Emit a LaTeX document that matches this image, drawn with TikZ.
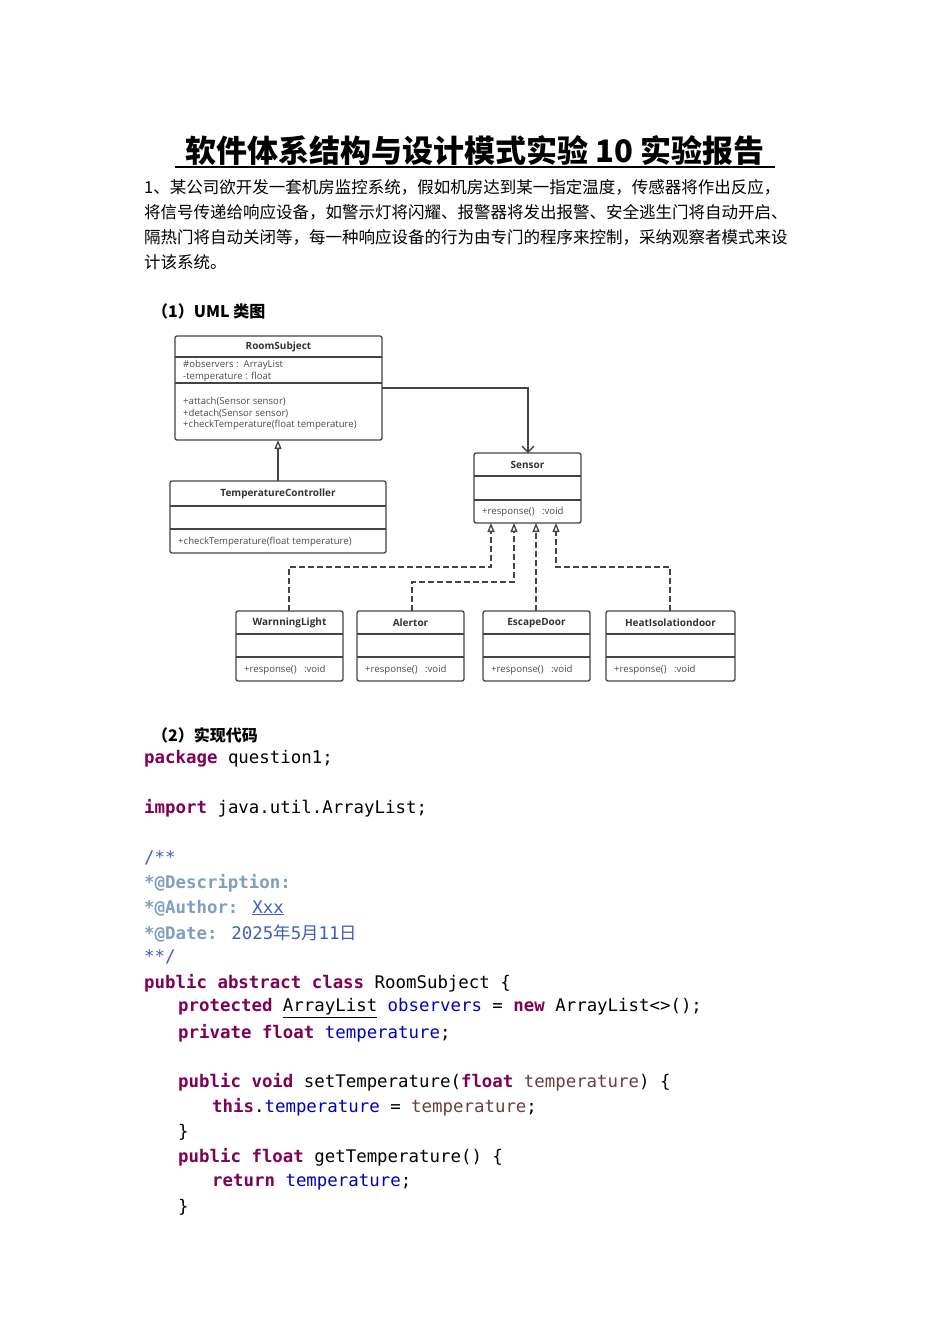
\documentclass[tikz,border=0pt]{standalone}
\usepackage{fontspec}
\setmainfont{Noto Sans CJK SC}
\newfontfamily\umlf{Open Sans}
\newfontfamily\codef{DejaVu Sans Mono}
\newfontfamily\cjkm{Noto Sans CJK SC}
\usetikzlibrary{arrows.meta}
\definecolor{kw}{HTML}{7F0055}
\definecolor{fld}{HTML}{0000C0}
\definecolor{jdoc}{HTML}{3F5FBF}
\definecolor{jtag}{HTML}{7F9FBF}
\definecolor{prm}{HTML}{6A3E3E}
\definecolor{ln}{HTML}{444444}
\newcommand{\K}[1]{\textcolor{kw}{\bfseries #1}}
\newcommand{\F}[1]{\textcolor{fld}{#1}}
\newcommand{\Pm}[1]{\textcolor{prm}{#1}}
\begin{document}
\begin{tikzpicture}[x=1pt,y=-1pt,
  box/.style={draw=ln,line width=1.3pt,rounded corners=2pt},
  sep/.style={draw=ln,line width=1.1pt},
  ttl/.style={font=\umlf\fontsize{10}{10}\selectfont\bfseries,text=black!80},
  mem/.style={font=\umlf\fontsize{9.6}{11.5}\selectfont,text=black!70,anchor=west,align=left,inner sep=0pt},
  txt/.style={anchor=west,inner sep=0pt,font=\fontsize{16.5}{16.5}\selectfont},
  code/.style={anchor=west,inner sep=0pt,font=\codef\fontsize{17.4}{17.4}\selectfont},
  inh/.style={draw=ln,line width=1.3pt,-{Triangle[open,length=9pt,width=7pt]}},
  real/.style={inh,dash pattern=on 6pt off 3pt}]
\fill[white] (0,0) rectangle (950,1344);
\useasboundingbox (0,0) rectangle (950,1344);
% title
\node[font=\fontsize{31}{31}\selectfont\bfseries] (title) at (475,151) {软件体系结构与设计模式实验 10 实验报告};
\draw[line width=1.2pt] (175,167) -- (775,167);
\node[txt] (p1) at (144,187) {1、某公司欲开发一套机房监控系统，假如机房达到某一指定温度，传感器将作出反应，};
\node[txt] (p2) at (144,212) {将信号传递给响应设备，如警示灯将闪耀、报警器将发出报警、安全逃生门将自动开启、};
\node[txt] (p3) at (144,237) {隔热门将自动关闭等，每一种响应设备的行为由专门的程序来控制，采纳观察者模式来设};
\node[txt] (p4) at (144,262) {计该系统。};
\node[txt,font=\fontsize{16}{16}\selectfont\bfseries] (h1) at (152,311) {（1）UML 类图};
% UML boxes
\draw[box] (175,336) rectangle (382,440); \draw[sep] (175,357)--(382,357); \draw[sep] (175,383)--(382,383);
\node[ttl] (rs) at (278.5,347) {RoomSubject};
\node[mem] at (183,371) {\#observers :\ \ ArrayList\\-temperature : float};
\node[mem] at (183,414) {+attach(Sensor sensor)\\+detach(Sensor sensor)\\+checkTemperature(float temperature)};
\draw[box] (170,481) rectangle (386,553); \draw[sep] (170,506)--(386,506); \draw[sep] (170,529)--(386,529);
\node[ttl] (tc) at (278,494) {TemperatureController};
\node[mem] at (178,542) {+checkTemperature(float temperature)};
\draw[box] (474,453) rectangle (581,523); \draw[sep] (474,476)--(581,476); \draw[sep] (474,500)--(581,500);
\node[ttl] (se) at (527.5,465) {Sensor};
\node[mem] at (482,512) {+response()\ \ \ :void};
\foreach \a/\b/\n/\t in {236/343/wl/WarnningLight,357/464/al/Alertor,483/590/ed/EscapeDoor,606/735/hd/HeatIsolationdoor}{
  \draw[box] (\a,611) rectangle (\b,681); \draw[sep] (\a,634)--(\b,634); \draw[sep] (\a,657)--(\b,657);
  \node[ttl] (\n) at ({(\a+\b)/2},623) {\t};
  \node[mem] at (\a+8,670) {+response()\ \ \ :void};
}
% connectors
\coordinate (rsR) at (382,388); \coordinate (seT) at (528,453);
\draw[draw=ln,line width=1.3pt,-{Straight Barb[length=6pt,width=12pt]}] (rsR) -- (528,388) -- (seT);
\coordinate (tcT) at (278,481); \coordinate (rsB) at (278,440);
\draw[inh] (tcT) -- (rsB);
\coordinate (wlT) at (289,611); \coordinate (s1) at (491,523);
\draw[real] (wlT) -- (289,567) -- (491,567) -- (s1);
\coordinate (alT) at (412,611); \coordinate (s2) at (514,523);
\draw[real] (alT) -- (412,582) -- (514,582) -- (s2);
\coordinate (edT) at (536,611); \coordinate (s3) at (536,523);
\draw[real] (edT) -- (s3);
\coordinate (hdT) at (670,611); \coordinate (s4) at (556,523);
\draw[real] (hdT) -- (670,567) -- (556,567) -- (s4);
% code
\node[txt,font=\fontsize{16}{16}\selectfont\bfseries] (h2) at (152,735) {（2）实现代码};
\node[code] (c1) at (144,759) {\K{package} question1;};
\node[code] (c2) at (144,808) {\K{import} java.util.ArrayList;};
\node[code,text=jdoc] (c3) at (144,858) {/**};
\node[code,text=jtag] (c4) at (144,883) {\bfseries *@Description:};
\node[code] (c5) at (144,908) {\textcolor{jtag}{\bfseries *@Author:} \textcolor{jdoc}{\underline{Xxx}}};
\node[code] (c6) at (144,933) {\textcolor{jtag}{\bfseries *@Date:} \textcolor{jdoc}{2025{\cjkm 年}5{\cjkm 月}11{\cjkm 日}}};
\node[code,text=jdoc] (c7) at (144,957) {**/};
\node[code] (c8) at (144,983) {\K{public} \K{abstract} \K{class} RoomSubject \{};
\node[code] (c9) at (178,1008) {\K{protected} \underline{ArrayList} \F{observers} = \K{new} ArrayList<>();};
\node[code] (c10) at (178,1033) {\K{private} \K{float} \F{temperature};};
\node[code] (c11) at (178,1082) {\K{public} \K{void} setTemperature(\K{float} \Pm{temperature}) \{};
\node[code] (c12) at (212,1107) {\K{this}.\F{temperature} = \Pm{temperature};};
\node[code] (c13) at (178,1132) {\}};
\node[code] (c14) at (178,1157) {\K{public} \K{float} getTemperature() \{};
\node[code] (c15) at (212,1182) {\K{return} \F{temperature};};
\node[code] (c16) at (178,1207) {\}};
\end{tikzpicture}
\end{document}
